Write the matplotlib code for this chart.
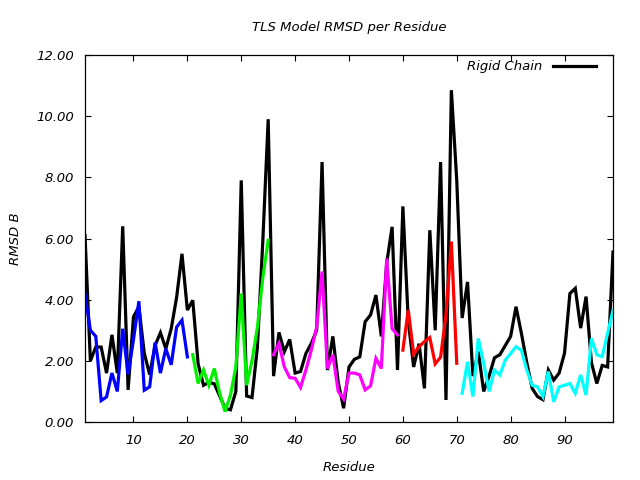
import matplotlib
matplotlib.use("Agg")
import matplotlib.pyplot as plt
import numpy as np

residues = list(range(1, 100))
rigid_chain = [6.1, 2.0, 2.45, 2.45, 1.6, 2.85, 1.6, 6.4, 1.05, 3.44,
               3.77, 2.25, 1.55, 2.5, 2.92, 2.4, 3.05, 4.07, 5.5, 3.66,
               3.98, 1.9, 1.2, 1.3, 1.25, 0.85, 0.45, 0.4, 1.0, 7.9,
               0.85, 0.8, 2.45, 5.9, 9.9, 1.5, 2.93, 2.3, 2.7, 1.6,
               1.65, 2.24, 2.57, 3.0, 8.5, 1.7, 2.8, 1.3, 0.45, 1.8,
               2.05, 2.13, 3.28, 3.5, 4.15, 2.8, 5.2, 6.38, 1.7, 7.05,
               3.3, 1.8, 2.56, 1.1, 6.27, 3.0, 8.5, 0.72, 10.85, 7.9,
               3.4, 4.58, 1.5, 2.3, 1.0, 1.5, 2.1, 2.2, 2.5, 2.8,
               3.77, 2.9, 1.94, 1.1, 0.83, 0.73, 1.7, 1.37, 1.6, 2.25,
               4.2, 4.37, 3.07, 4.1, 1.94, 1.26, 1.85, 1.8, 5.56]

seg1_res = list(range(1, 21))
seg1_val = [4.2, 3.0, 2.8, 0.7, 0.82, 1.6, 1.0, 3.05, 1.55, 2.7,
            3.95, 1.04, 1.15, 2.6, 1.6, 2.4, 1.87, 3.1, 3.33, 2.13]
seg2_res = list(range(21, 36))
seg2_val = [2.2, 1.26, 1.7, 1.2, 1.75, 0.94, 0.34, 0.88, 1.8, 4.2,
            1.2, 2.0, 3.1, 4.7, 5.94]
seg3_res = list(range(36, 60))
seg3_val = [2.2, 2.57, 1.8, 1.45, 1.43, 1.13, 1.7, 2.35, 3.1, 4.92,
            1.75, 2.2, 1.0, 0.75, 1.6, 1.6, 1.54, 1.05, 1.18, 2.08,
            1.75, 5.35, 3.05, 2.85]
seg4_res = list(range(60, 71))
seg4_val = [2.35, 3.66, 2.22, 2.46, 2.63, 2.76, 1.9, 2.12, 3.5, 5.9, 1.92]
seg5_res = list(range(71, 100))
seg5_val = [0.94, 1.97, 0.83, 2.73, 1.92, 1.0, 1.7, 1.54, 2.02, 2.24,
            2.46, 2.35, 1.7, 1.2, 1.15, 0.83, 1.65, 0.66, 1.15, 1.2,
            1.26, 0.94, 1.54, 0.88, 2.73, 2.2, 2.14, 2.9, 3.65]

segments = [(seg1_res, seg1_val, "#0000ff"),
            (seg2_res, seg2_val, "#00f000"),
            (seg3_res, seg3_val, "#ff00ff"),
            (seg4_res, seg4_val, "#ff0000"),
            (seg5_res, seg5_val, "#00ffff")]

xticks = [10, 20, 30, 40, 50, 60, 70, 80, 90]
yticks = [0, 2, 4, 6, 8, 10, 12]

FS = 9.5
plt.rcParams['font.family'] = ['DejaVu Sans']
plt.rcParams['font.style'] = 'italic'

fig = plt.figure(figsize=(6.4, 4.8), dpi=100)
ax = fig.add_axes([85/640, 1-422/480, (613-85)/640, (422-55)/480])

lw = 2.3
ax.plot(residues, rigid_chain, color="black", lw=lw, label="Rigid Chain",
        solid_joinstyle='miter')
for r, v, c in segments:
    ax.plot(r, v, color=c, lw=lw, solid_joinstyle='miter')

ax.set_xlim(1, 99)
ax.set_ylim(0, 12)
ax.set_xticks(xticks)
ax.set_yticks(yticks)
ax.set_yticklabels([f"{t:.2f}" for t in yticks])
ax.tick_params(direction='in', length=4.5, width=0.8, top=True, right=True,
               labelsize=FS)
ax.tick_params(axis='x', pad=9)
ax.tick_params(axis='y', pad=8)
for s in ax.spines.values():
    s.set_linewidth(0.9)

ax.set_title("TLS Model RMSD per Residue", fontsize=FS, style='italic', pad=17)
ax.set_xlabel("Residue", fontsize=FS, style='italic', labelpad=10)
ax.set_ylabel("RMSD B", fontsize=FS, style='italic', labelpad=10)

ax.legend(loc='upper right', bbox_to_anchor=(0.978, 1.0), borderaxespad=0,
          frameon=False, markerfirst=False, handlelength=3.3,
          handletextpad=0.8, fontsize=FS)

fig.savefig("out.png", dpi=100)
